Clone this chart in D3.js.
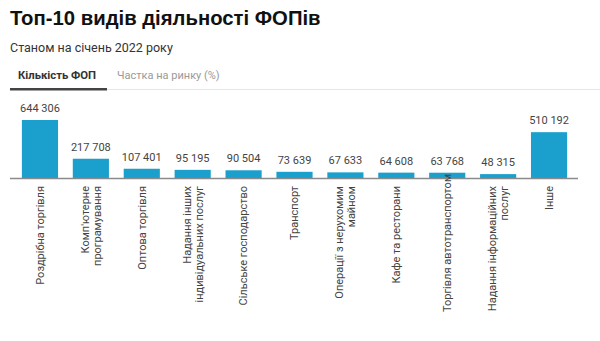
<!DOCTYPE html>
<html>
<head>
<meta charset="utf-8">
<script src="https://cdn.jsdelivr.net/npm/d3@7"></script>
<style>
  html, body { margin: 0; padding: 0; background: #fff; }
  svg { display: block; font-family: Roboto, "Noto Sans", sans-serif; }
</style>
</head>
<body>
<svg id="chart" width="600" height="341"></svg>
<script>
const categories = [
  "Роздрібна торгівля",
  "Комп'ютерне\nпрограмування",
  "Оптова торгівля",
  "Надання інших\nіндивідуальних послуг",
  "Сільське господарство",
  "Транспорт",
  "Операції з нерухомим\nмайном",
  "Кафе та ресторани",
  "Торгівля автотранспортом",
  "Надання інформаційних\nпослуг",
  "Інше"
];
const values = [644306, 217708, 107401, 95195, 90504, 73639, 67633, 64608, 63768, 48315, 510192];
const titleText = "Топ-10 видів діяльності ФОПів";
const subtitleText = "Станом на січень 2022 року";
const tabs = ["Кількість ФОП", "Частка на ринку (%)"];

const svg = d3.select("#chart");
const baseY = 178.5;

svg.append("text").attr("x", 10).attr("y", 25)
  .attr("font-family", "'Liberation Sans', Arial, sans-serif")
  .attr("font-size", 20.3).attr("font-weight", 700).attr("fill", "#111")
  .text(titleText);
svg.append("text").attr("x", 10).attr("y", 52)
  .attr("font-size", 12.5).attr("fill", "#333")
  .text(subtitleText);

svg.append("text").attr("x", 18).attr("y", 79)
  .attr("font-size", 11.3).attr("font-weight", 700).attr("fill", "#333")
  .text(tabs[0]);
svg.append("text").attr("x", 117).attr("y", 79)
  .attr("font-size", 11).attr("fill", "#999")
  .text(tabs[1]);
svg.append("rect").attr("x", 107).attr("y", 89).attr("width", 493).attr("height", 1).attr("fill", "#e6e6e6");
svg.append("rect").attr("x", 10).attr("y", 88).attr("width", 97).attr("height", 2.5).attr("fill", "#444");

const x = d3.scaleBand().domain(categories).range([14.5, 574.5]).paddingInner(0.29).paddingOuter(0.145);
const y = d3.scaleLinear().domain([0, 644306]).range([baseY, 120]);
const fmt = d3.formatLocale({decimal: ",", thousands: " ", grouping: [3], currency: ["", ""]}).format(",d");

const data = categories.map((c, i) => ({c, v: values[i]}));

svg.selectAll("rect.bar").data(data).join("rect").attr("class", "bar")
  .attr("x", d => x(d.c)).attr("width", x.bandwidth())
  .attr("y", d => y(d.v)).attr("height", d => y(0) - y(d.v))
  .attr("fill", "#1b9fcc");

svg.selectAll("text.val").data(data).join("text").attr("class", "val")
  .attr("x", d => x(d.c) + x.bandwidth() / 2)
  .attr("y", d => y(d.v) - 8)
  .attr("text-anchor", "middle").attr("font-size", 11).attr("fill", "#444")
  .text(d => fmt(d.v));

svg.append("line").attr("x1", 10).attr("x2", 578).attr("y1", baseY).attr("y2", baseY)
  .attr("stroke", "#8a8a8a").attr("stroke-width", 1.5);

const labelTop = 186, maxLen = 126;
data.forEach(d => {
  const cx = x(d.c) + x.bandwidth() / 2;
  const lines = d.c.split("\n");
  const g = svg.append("g");
  const texts = lines.map((ln, i) => {
    const off = (i - (lines.length - 1) / 2) * 12;
    return g.append("text")
      .attr("transform", `translate(${cx + off},${labelTop}) rotate(-90)`)
      .attr("dy", "0.35em")
      .attr("text-anchor", "end").attr("font-size", 11).attr("fill", "#444")
      .text(ln);
  });
  const len = d3.max(texts, t => t.node().getComputedTextLength());
  if (len > maxLen) {
    const shift = len - maxLen;
    g.attr("transform", `translate(0,${-shift})`);
  }
});
</script>
</body>
</html>
